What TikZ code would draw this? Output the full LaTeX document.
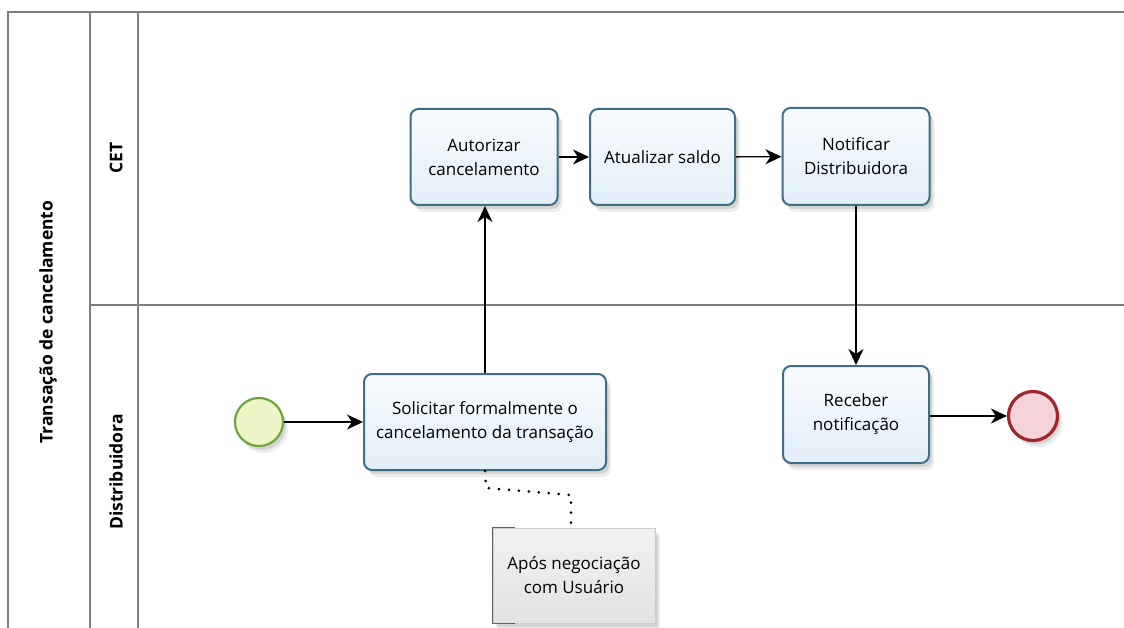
\documentclass[tikz,border=0pt]{standalone}
\usepackage{fontspec}
\setmainfont{Open Sans}
\usetikzlibrary{shadows,arrows.meta}
\definecolor{taskborder}{HTML}{3E6F86}
\definecolor{tasktop}{HTML}{F8FBFE}
\definecolor{taskbot}{HTML}{E2EEF8}
\definecolor{framegray}{HTML}{7F7F7F}
\definecolor{startfill}{HTML}{EEF6C8}
\definecolor{startborder}{HTML}{6EA53C}
\definecolor{endfill}{HTML}{F5D3D8}
\definecolor{endborder}{HTML}{A0262C}
\definecolor{annotop}{HTML}{F2F2F2}
\definecolor{annobot}{HTML}{E2E2E2}
\tikzset{
  frameline/.style={draw=framegray, line width=1.6pt},
  lanelabel/.style={font=\fontsize{17.5}{20}\selectfont\bfseries, rotate=90, inner sep=0pt},
  softshadow/.style={
    drop shadow={shadow xshift=3pt, shadow yshift=-4pt, fill=black, opacity=0.10},
    drop shadow={shadow xshift=5pt, shadow yshift=-7pt, fill=black, opacity=0.07}},
  taskbox/.style={rectangle, rounded corners=8pt, draw=taskborder, line width=2pt,
    top color=tasktop, bottom color=taskbot, align=center,
    font=\fontsize{17}{24}\selectfont, softshadow},
  startev/.style={circle, draw=startborder, line width=2.2pt, fill=startfill, minimum size=48pt, inner sep=0pt, softshadow},
  endev/.style={circle, draw=endborder, line width=3.2pt, fill=endfill, minimum size=49pt, inner sep=0pt, softshadow},
  annobox/.style={rectangle, draw=gray!40, line width=1pt, top color=annotop, bottom color=annobot,
    align=center, font=\fontsize{17}{24}\selectfont, minimum width=162pt, minimum height=95pt, softshadow},
  flow/.style={draw=black, line width=1.4pt, -{Stealth[length=16pt,width=15pt,inset=5pt]}},
  assoc/.style={draw=black, line width=3pt, line cap=round, dash pattern=on 0pt off 10pt}
}
\begin{document}
\begin{tikzpicture}[x=1pt,y=-1pt]
\useasboundingbox (0,0) rectangle (1124,628);
\fill[white] (0,0) rectangle (1124,628);
% pool and lanes
\draw[frameline] (8,628) -- (8,12) -- (1124,12);
\draw[frameline] (90,12) -- (90,628);
\draw[frameline] (138,12) -- (138,628);
\draw[frameline] (90,305) -- (1124,305);
\node[lanelabel] (pool) at (48,322) {Transação de cancelamento};
\node[lanelabel] (cet) at (116,158) {CET};
\node[lanelabel] (dist) at (116,472) {Distribuidora};
% tasks
\node[taskbox, minimum width=147pt, minimum height=96pt] (auth) at (484,157) {Autorizar\\cancelamento};
\node[taskbox, minimum width=145pt, minimum height=96pt] (upd) at (662.5,157) {Atualizar saldo};
\node[taskbox, minimum width=147pt, minimum height=97pt] (notif) at (856,156.5) {Notificar\\Distribuidora};
\node[taskbox, minimum width=242pt, minimum height=96pt] (sol) at (485,422) {Solicitar formalmente o\\cancelamento da transação};
\node[taskbox, minimum width=146pt, minimum height=97pt] (recv) at (856,414.5) {Receber\\notificação};
% events
\node[startev] (start) at (259,422) {};
\node[endev] (end) at (1033,416) {};
% annotation
\node[annobox] (anno) at (574,575.5) {Após negociação\\com Usuário};
\draw[gray!75!black, line width=1pt] ([xshift=22pt]anno.north west) -- (anno.north west) -- (anno.south west) -- ([xshift=22pt]anno.south west);
% flows
\draw[flow] (start) -- (sol);
\draw[flow] (sol.north) -- (sol.north |- auth.south);
\draw[flow] (auth) -- (upd);
\draw[flow] (upd) -- (notif);
\draw[flow] (notif.south) -- (recv.north);
\draw[flow] (recv.east |- end) -- (end);
% association
\coordinate (a1) at (486,488);
\coordinate (a2) at (571,495);
\draw[assoc] (sol.south) -- (a1) -- (a2) -- (anno.north -| a2);
\end{tikzpicture}
\end{document}
